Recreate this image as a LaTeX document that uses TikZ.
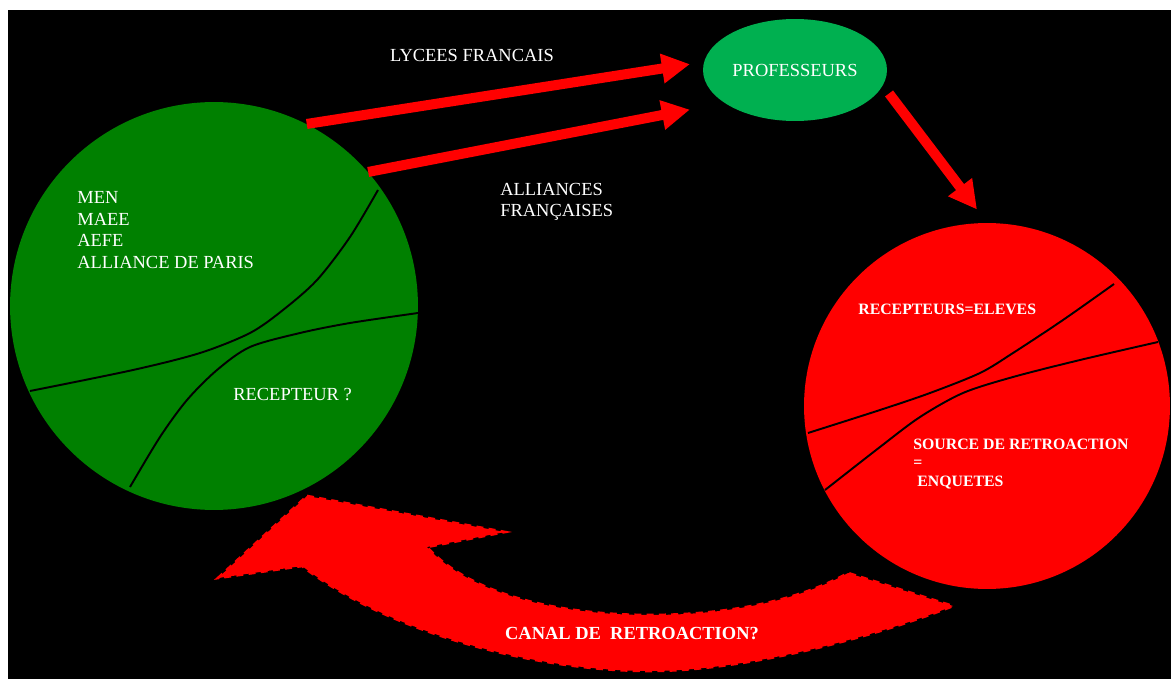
\documentclass[tikz,border=0pt]{standalone}
\usepackage{fontspec}
\setmainfont{Liberation Serif}
\usetikzlibrary{arrows.meta,shapes.geometric}
\definecolor{vertfonce}{RGB}{0,128,0}
\definecolor{vertclair}{RGB}{0,176,80}

\begin{document}
\begin{tikzpicture}[x=0.02cm,y=-0.02cm,
		txt/.style={text=white,inner sep=0pt,font=\fontsize{10.5}{12.3}\selectfont},
		gras/.style={text=white,inner sep=0pt,font=\fontsize{9}{10.5}\selectfont\bfseries},
		fleche/.style={draw=red,line width=5.7pt,-{Triangle[width=16pt,length=16pt]}},
		trait/.style={draw=black,line width=1.1pt}]
			\useasboundingbox (0,0) rectangle (1171,679);
			\fill[black] (8,10) rectangle (1171,679);

			% les trois ensembles
			\node[circle,fill=vertfonce,minimum size=8.16cm,inner sep=0pt] (emetteur) at (214,306) {};
			\node[circle,fill=red,minimum size=7.32cm,inner sep=0pt] (eleves) at (987,406) {};
			\node[ellipse,fill=vertclair,minimum width=3.68cm,minimum height=2.04cm,txt] (prof) at (795,70) {PROFESSEURS};

			\path[trait] plot[smooth] coordinates {(30,391) (133,370) (200,353) (250,333) (283,310) (317,280) (350,237) (378,190)};
			\path[trait] plot[smooth] coordinates {(130,487) (160,437) (187,400) (217,370) (250,347) (300,333) (350,323) (418,313)};
			\path[trait] plot[smooth] coordinates {(808,433) (880,410) (930,393) (980,373) (1013,353) (1063,320) (1114,284)};
			\path[trait] plot[smooth] coordinates {(825,490) (880,447) (920,417) (963,393) (1013,377) (1080,360) (1158,342)};

			\node[txt,align=left,anchor=west] (ministeres) at (77,230) {MEN\\MAEE\\AEFE\\ALLIANCE DE PARIS};
			\node[txt,anchor=west] (recep) at (233,395) {RECEPTEUR ?};
			\node[gras,anchor=west] (recepeleves) at (858,309) {RECEPTEURS=ELEVES};
			\node[gras,align=left,anchor=west] (source) at (913,464) {SOURCE DE RETROACTION\\=\\\hspace{2.3pt}ENQUETES};

			% les canaux
			\node[txt] (lycees) at (472,55) {LYCEES FRANCAIS};
			\node[txt,align=left,anchor=west] (alliances) at (500,202) {ALLIANCES\\FRANÇAISES};

			\path[fleche,shorten >=0.28cm] (emetteur.63) -- (prof.175);
			\path[fleche,shorten >=0.7cm] (emetteur.41) -- (prof.205);
			\path[fleche,shorten <=0.2cm,shorten >=0.33cm] (prof.-10) -- (eleves.north);

			% retroaction
			\path[fill=red,draw=red,line width=1.5pt,dash pattern=on 4pt off 3pt]
				(307,496) -- (505,532) -- (427,547)
				.. controls (470,595) and (560,615) .. (650,615)
				.. controls (730,615) and (800,600) .. (848,573)
				-- (953,606)
				.. controls (883,634) and (750,671) .. (650,671)
				.. controls (540,671) and (392,635) .. (302,566)
				-- (218,578) -- cycle;
			\node[gras,font=\fontsize{10.5}{12}\selectfont\bfseries] (canal) at (632,634) {CANAL DE\ \ RETROACTION?};
		\end{tikzpicture}
\end{document}
